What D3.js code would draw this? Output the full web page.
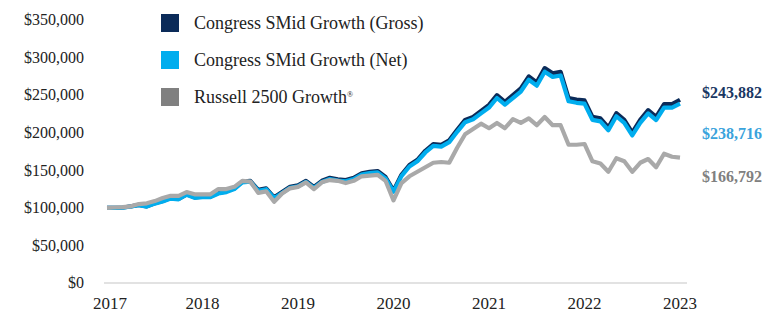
<!DOCTYPE html>
<html>
<head>
<meta charset="utf-8">
<script src="https://cdn.jsdelivr.net/npm/d3@7"></script>
<style>
  body { margin: 0; background: #fff; }
  svg { display: block; font-family: "Liberation Serif", "DejaVu Serif", serif; }
</style>
</head>
<body>
<div id="chart"></div>
<script>
// growth of $100,000, monthly, in thousands of dollars
var startYear = 2017;
var gross = [100, 100, 100.5, 102, 104, 102, 106, 109, 113, 112, 118, 114,
  115, 115, 120, 122, 126, 135, 136, 124, 126, 114, 121, 128,
  130, 136, 128, 136, 140, 138, 137, 140, 146, 148, 149, 141,
  123, 144, 157, 164, 176, 185, 184, 190, 204, 217, 221, 229,
  237, 250, 241, 250, 259, 275, 267, 286, 279, 281, 246, 244,
  243, 221, 219, 207, 226, 217, 200, 217, 230, 221, 238, 238, 243.882];
var net = [100, 100, 100.3, 101.8, 103.7, 101.6, 105.6, 108.5, 112.4, 111.4, 117.4, 113.3,
  114.2, 114.2, 119.1, 121, 125, 133.8, 134.8, 122.8, 124.8, 112.9, 119.8, 126.7,
  128.7, 134.5, 126.6, 134.5, 138.4, 136.4, 135.4, 138.3, 144.3, 146.2, 147.2, 139.3,
  121.5, 142.2, 155, 161.9, 173.7, 182.5, 181.5, 187.4, 201.2, 214, 217.9, 225.7,
  233.5, 246.2, 237.3, 246.1, 254.8, 270.5, 262.6, 281.2, 274.3, 276.2, 241.8, 239.8,
  238.8, 217.1, 215.1, 203.3, 221.9, 213.1, 196.4, 213, 225.7, 216.9, 233.5, 233.5, 238.716];
var russell = [100, 100.5, 101, 102, 105, 106, 109, 113, 116, 116, 121, 118,
  118, 118, 125, 125, 128, 136, 135, 120, 122, 108, 119, 126,
  128, 134, 125, 134, 137, 136, 133, 136, 142, 143, 144, 136,
  110, 133, 142, 148, 154, 160, 161, 160, 180, 198, 205, 212,
  206, 213, 206, 218, 213, 219, 210, 221, 210, 210, 184, 184,
  185, 162, 159, 148, 166, 162, 148, 160, 165, 154, 172, 168, 166.792];

var seriesNames = ["Congress SMid Growth (Gross)", "Congress SMid Growth (Net)", "Russell 2500 Growth"];
var endLabels = ["$243,882", "$238,716", "$166,792"];
var yTicks = [0, 50000, 100000, 150000, 200000, 250000, 300000, 350000];
var xTicks = [2017, 2018, 2019, 2020, 2021, 2022, 2023];

var width = 782, height = 316;
var lineColors = ["#0b2b59", "#00adee", "#a9a9a9"];
var swatchColors = ["#0b2b59", "#00adee", "#808080"];
var labelColors = ["#1a3763", "#3aa3dc", "#808080"];

var svg = d3.select("#chart").append("svg")
  .attr("width", width).attr("height", height);

var x = d3.scaleLinear().domain([2017, 2023]).range([107, 680]);
var y = d3.scaleLinear().domain([0, 350000]).range([283, 20]);

// baseline
svg.append("line")
  .attr("x1", 104).attr("x2", 687)
  .attr("y1", y(0)).attr("y2", y(0))
  .attr("stroke", "#d9d9d9").attr("stroke-width", 1.5);

svg.selectAll("text.ytick").data(yTicks).enter().append("text")
  .attr("class", "ytick")
  .attr("x", 84).attr("y", d => y(d)).attr("dy", "0.33em")
  .attr("text-anchor", "end").attr("font-size", 16).attr("fill", "#222")
  .text(d => "$" + d3.format(",")(d));

svg.selectAll("text.xtick").data(xTicks).enter().append("text")
  .attr("class", "xtick")
  .attr("x", d => x(d) + (d === 2017 ? 3 : 0)).attr("y", 309)
  .attr("text-anchor", "middle").attr("font-size", 17).attr("fill", "#222")
  .text(d => d);

var line = d3.line()
  .x((d, i) => x(startYear + i / 12))
  .y(d => y(d * 1000))
  .curve(d3.curveLinear);

[gross, net, russell].forEach(function (s, k) {
  svg.append("path")
    .datum(s)
    .attr("fill", "none")
    .attr("stroke", lineColors[k])
    .attr("stroke-width", 4.2)
    .attr("stroke-linejoin", "round")
    .attr("d", line);
});

// legend
var legend = svg.selectAll("g.legend").data(seriesNames).enter().append("g")
  .attr("class", "legend")
  .attr("transform", (d, i) => "translate(161," + (23 + i * 37) + ")");
legend.append("rect")
  .attr("x", 0).attr("y", -9).attr("width", 18).attr("height", 18)
  .attr("fill", (d, i) => swatchColors[i]);
var lt = legend.append("text")
  .attr("x", 33).attr("y", 0).attr("dy", "0.33em")
  .attr("font-size", 18).attr("fill", "#222")
  .text(d => d);
lt.filter((d, i) => i === 2).append("tspan")
  .attr("dy", "-0.75em").attr("font-size", 8).text("®");

// end labels
var labelY = [93, 134, 177];
svg.selectAll("text.endlabel").data(endLabels).enter().append("text")
  .attr("class", "endlabel")
  .attr("x", 702).attr("y", (d, i) => labelY[i]).attr("dy", "0.33em")
  .attr("font-size", 16).attr("font-weight", "bold")
  .attr("fill", (d, i) => labelColors[i])
  .text(d => d);
</script>
</body>
</html>
